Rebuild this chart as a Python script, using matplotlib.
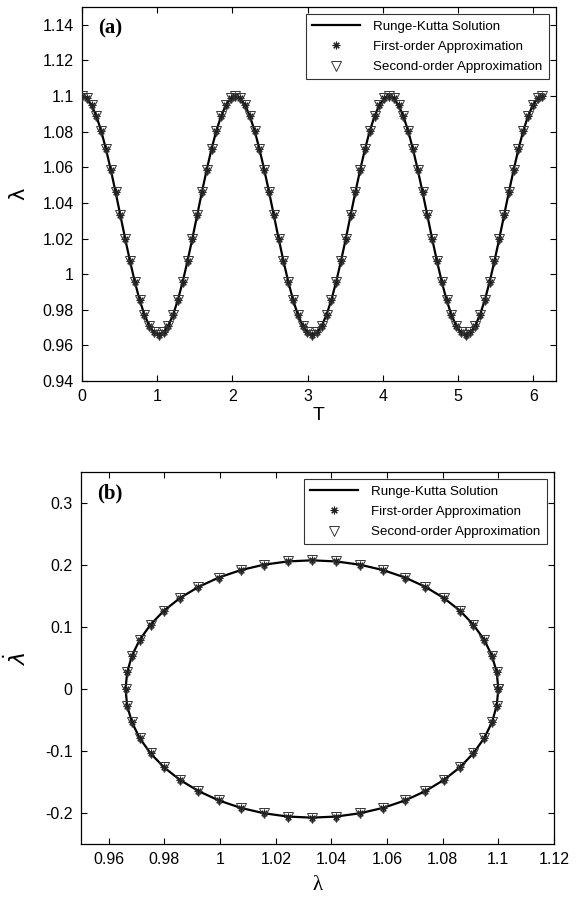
import numpy as np
import matplotlib
matplotlib.use("Agg")
import matplotlib.pyplot as plt
from matplotlib.ticker import FuncFormatter

plt.rcParams['axes.unicode_minus'] = False
plt.rcParams['font.family'] = ['Liberation Sans', 'DejaVu Sans']

# ---------------- data: panel (a) lambda vs T ----------------
dt_a = 0.06375
lam_a = [
    1.1000, 1.0987, 1.0949, 1.0887, 1.0804, 1.0702, 1.0586, 1.0461,
    1.0330, 1.0199, 1.0074, 0.9958, 0.9856, 0.9773, 0.9711, 0.9673,
    0.9660, 0.9673, 0.9711, 0.9773, 0.9856, 0.9958, 1.0074, 1.0199,
    1.0330, 1.0461, 1.0586, 1.0702, 1.0804, 1.0887, 1.0949, 1.0987,
    1.1000, 1.0987, 1.0949, 1.0887, 1.0804, 1.0702, 1.0586, 1.0461,
    1.0330, 1.0199, 1.0074, 0.9958, 0.9856, 0.9773, 0.9711, 0.9673,
    0.9660, 0.9673, 0.9711, 0.9773, 0.9856, 0.9958, 1.0074, 1.0199,
    1.0330, 1.0461, 1.0586, 1.0702, 1.0804, 1.0887, 1.0949, 1.0987,
    1.1000, 1.0987, 1.0949, 1.0887, 1.0804, 1.0702, 1.0586, 1.0461,
    1.0330, 1.0199, 1.0074, 0.9958, 0.9856, 0.9773, 0.9711, 0.9673,
    0.9660, 0.9673, 0.9711, 0.9773, 0.9856, 0.9958, 1.0074, 1.0199,
    1.0330, 1.0461, 1.0586, 1.0702, 1.0804, 1.0887, 1.0949, 1.0987,
    1.1000,
]
T_a = np.arange(len(lam_a)) * dt_a

# ---------------- data: panel (b) phase portrait ----------------
lam_b = [
    1.1000, 1.0994, 1.0977, 1.0949, 1.0910, 1.0862, 1.0804, 1.0738,
    1.0665, 1.0586, 1.0503, 1.0417, 1.0330, 1.0243, 1.0157, 1.0074,
    0.9995, 0.9922, 0.9856, 0.9798, 0.9750, 0.9711, 0.9683, 0.9666,
    0.9660, 0.9666, 0.9683, 0.9711, 0.9750, 0.9798, 0.9856, 0.9922,
    0.9995, 1.0074, 1.0157, 1.0243, 1.0330, 1.0417, 1.0503, 1.0586,
    1.0665, 1.0738, 1.0804, 1.0862, 1.0910, 1.0949, 1.0977, 1.0994,
    1.1000,
]
lamdot_b = [
    0.0000, -0.0271, -0.0537, -0.0794, -0.1038, -0.1263, -0.1467, -0.1646,
    -0.1797, -0.1917, -0.2004, -0.2057, -0.2075, -0.2057, -0.2004, -0.1917,
    -0.1797, -0.1646, -0.1467, -0.1263, -0.1038, -0.0794, -0.0537, -0.0271,
    0.0000, 0.0271, 0.0537, 0.0794, 0.1038, 0.1263, 0.1467, 0.1646,
    0.1797, 0.1917, 0.2004, 0.2057, 0.2075, 0.2057, 0.2004, 0.1917,
    0.1797, 0.1646, 0.1467, 0.1263, 0.1038, 0.0794, 0.0537, 0.0271,
    0.0000,
]

legend_labels = ["Runge-Kutta Solution", "First-order Approximation",
                 "Second-order Approximation"]

asterisk = (8, 2, 0)


def fmt(v, pos):
    return "%g" % round(v, 6)


fig = plt.figure(figsize=(5.82, 9.05), dpi=100)
ax_a = fig.add_axes([0.1409, 0.5790, 0.8144, 0.4133])
ax_b = fig.add_axes([0.1392, 0.0674, 0.8127, 0.4111])


def draw(ax, x, y):
    ax.plot(x, y, color='black', lw=1.6, label=legend_labels[0], zorder=3)
    ax.plot(x, y, linestyle='none', marker=asterisk, ms=5.5, mew=0.8,
            color='#222222', label=legend_labels[1], zorder=4)
    ax.plot(x, y, linestyle='none', marker='v', ms=7, mew=0.7,
            mfc='none', mec='#333333', label=legend_labels[2], zorder=5)
    leg = ax.legend(loc='upper right', fontsize=9.6, frameon=True, fancybox=False,
                    edgecolor='black', handlelength=3.6, borderaxespad=0.55,
                    labelspacing=0.6, handletextpad=1.0, borderpad=0.45)
    leg.get_frame().set_linewidth(0.8)
    for sp in ax.spines.values():
        sp.set_linewidth(0.9)
    ax.tick_params(direction='in', top=True, right=True, length=4,
                   width=0.8, labelsize=11.5, pad=6)
    ax.xaxis.set_major_formatter(FuncFormatter(fmt))
    ax.yaxis.set_major_formatter(FuncFormatter(fmt))


draw(ax_a, T_a, lam_a)
ax_a.set_xlim(0, 6.3)
ax_a.set_ylim(0.94, 1.15)
ax_a.set_xticks([0, 1, 2, 3, 4, 5, 6])
ax_a.set_yticks(np.round(np.arange(0.94, 1.1401, 0.02), 2))
ax_a.set_xlabel('T', fontsize=14, labelpad=2)
ax_a.set_ylabel('λ', fontsize=15, family=['DejaVu Sans'], labelpad=10)
ax_a.text(0.035, 0.97, '(a)', transform=ax_a.transAxes, fontsize=15,
          fontweight='bold', family=['Liberation Serif'], va='top', ha='left')

draw(ax_b, lam_b, lamdot_b)
ax_b.set_xlim(0.95, 1.12)
ax_b.set_ylim(-0.25, 0.35)
ax_b.set_xticks(np.round(np.arange(0.96, 1.1201, 0.02), 2))
ax_b.set_yticks([-0.2, -0.1, 0, 0.1, 0.2, 0.3])
ax_b.set_xlabel('λ', fontsize=15, family=['Liberation Serif'], labelpad=6)
ax_b.set_ylabel(r'$\dot{\lambda}$', fontsize=16, labelpad=10)
ax_b.text(0.035, 0.97, '(b)', transform=ax_b.transAxes, fontsize=15,
          fontweight='bold', family=['Liberation Serif'], va='top', ha='left')

fig.savefig('out.png', dpi=100)
